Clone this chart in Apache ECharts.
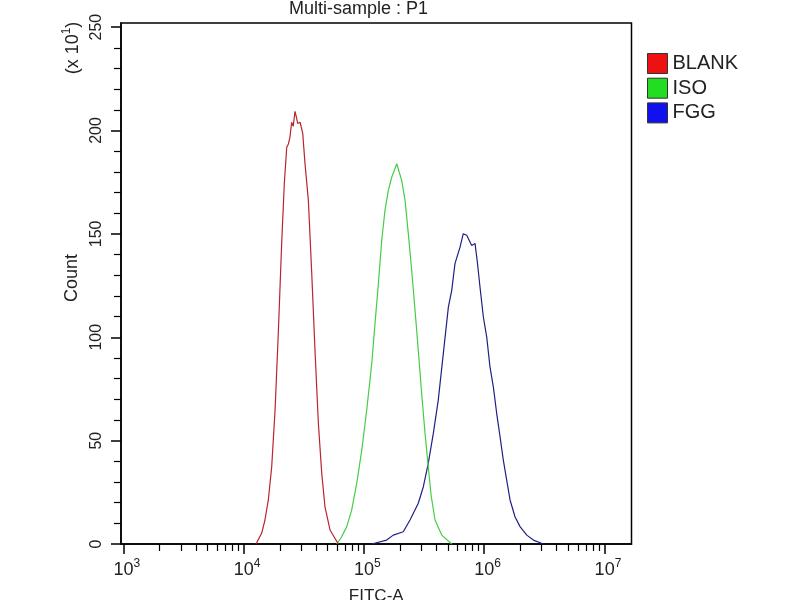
<!DOCTYPE html>
<html>
<head>
<meta charset="utf-8">
<script src="https://cdn.jsdelivr.net/npm/echarts@6/dist/echarts.min.js"></script>
<style>
html,body{margin:0;padding:0;background:#fff;}
#chart{width:800px;height:600px;}
</style>
</head>
<body>
<div id="chart"></div>
<script>
// ---- data (x values are log10 of FITC-A, y values are Count in units of x10^1) ----
const chartTitle = 'Multi-sample : P1';
const seriesNames = ['BLANK', 'ISO', 'FGG'];
const lineColors = ['#b8252b', '#46cc46', '#1f1f86'];
const legendColors = ['#ee1111', '#22dd22', '#1111ee'];

const xDecades = [3, 4, 5, 6, 7];
const xMinorMultipliers = [2, 3, 4, 5, 6, 7, 8, 9];
const yMajorTicks = [0, 50, 100, 150, 200, 250];
const yMinorTicks = [10, 20, 30, 40, 60, 70, 80, 90, 110, 120, 130, 140, 160, 170, 180, 190, 210, 220, 230, 240];

const blankLogFitc = [4.103, 4.150, 4.177, 4.205, 4.233, 4.261, 4.288, 4.316, 4.338, 4.358, 4.372, 4.385, 4.399, 4.412, 4.427, 4.440, 4.449, 4.469, 4.491, 4.510, 4.538, 4.566, 4.593, 4.621, 4.649, 4.676, 4.718, 4.787];
const blankCount   = [0, 5.3, 11.6, 21.3, 37.3, 64.7, 101.9, 145.4, 174.4, 191.9, 193.5, 196.8, 204, 202, 209.3, 206, 203.4, 204, 198.6, 184, 166.2, 130.9, 93.7, 58.5, 34.3, 18, 6.8, 0];

const isoLogFitc = [4.774, 4.815, 4.857, 4.898, 4.940, 4.982, 5.023, 5.065, 5.092, 5.120, 5.148, 5.175, 5.203, 5.231, 5.273, 5.314, 5.342, 5.369, 5.397, 5.425, 5.452, 5.480, 5.508, 5.535, 5.558, 5.591, 5.647, 5.730];
const isoCount   = [0, 3.5, 8.4, 16.4, 29.3, 45.4, 64.7, 87.3, 106.6, 125.9, 146.9, 161.4, 171, 177.4, 183.9, 175.8, 166.2, 150.1, 132.4, 113, 93.7, 72.8, 53.5, 37.3, 23.7, 11.6, 4.3, 0];

const fggLogFitc = [5.065, 5.189, 5.244, 5.327, 5.383, 5.452, 5.494, 5.535, 5.577, 5.618, 5.660, 5.702, 5.730, 5.757, 5.799, 5.826, 5.855, 5.868, 5.896, 5.924, 5.943, 5.965, 5.993, 6.021, 6.048, 6.076, 6.104, 6.132, 6.159, 6.187, 6.215, 6.256, 6.298, 6.354, 6.409, 6.492];
const fggCount   = [0, 1.9, 4.3, 5.9, 11.6, 19.7, 27.7, 39, 53.5, 69.6, 92.1, 114.6, 122.7, 135.6, 143.6, 150.1, 149.3, 150.1, 144.4, 145.3, 136.4, 124.3, 109.8, 100.1, 85.7, 76, 63.1, 51.8, 40.6, 30.9, 21.3, 13.2, 8.4, 4.3, 1.9, 0];

// ---- build ----
const FONT = '"Liberation Sans", Arial, Helvetica, sans-serif';
const TXT = '#222';
const xMin = 2.98, xMax = 7.2248, yMin = 0, yMax = 252;

const xMinorTicks = [];
xDecades.forEach(function (d) {
  xMinorMultipliers.forEach(function (k) {
    const v = d + Math.log10(k);
    if (v < xMax) xMinorTicks.push(v);
  });
});

function pairs(xs, ys) { return xs.map(function (x, i) { return [x, ys[i]]; }); }
const seriesData = [pairs(blankLogFitc, blankCount), pairs(isoLogFitc, isoCount), pairs(fggLogFitc, fggCount)];

const axisLine = { show: true, onZero: false, lineStyle: { color: '#000', width: 1.5 } };

const chart = echarts.init(document.getElementById('chart'));
chart.setOption({
  animation: false,
  backgroundColor: '#fff',
  title: {
    text: chartTitle, left: 289, top: 0, padding: 0,
    textStyle: { fontSize: 18, fontWeight: 'normal', color: TXT, fontFamily: FONT }
  },
  legend: {
    orient: 'vertical', left: 647, top: 53, padding: 0,
    itemWidth: 20, itemHeight: 20, itemGap: 3.7, icon: 'rect',
    textStyle: { fontSize: 20, color: TXT, fontFamily: FONT, lineHeight: 20 },
    data: seriesNames.map(function (n, i) {
      return { name: n, itemStyle: { color: legendColors[i], borderColor: '#333', borderWidth: 1 } };
    })
  },
  grid: {
    left: 121, right: 168.5, top: 23, bottom: 56,
    outerBoundsMode: 'none', containLabel: false,
    show: true, borderColor: '#000', borderWidth: 1.5, backgroundColor: 'transparent'
  },
  graphic: [{
    type: 'text', x: 72, y: 48, rotation: Math.PI / 2, z: 10,
    style: {
      text: '{b|(x 10}{s|1}{b|)}', x: 0, y: 0, align: 'center', verticalAlign: 'middle', fill: TXT,
      rich: {
        b: { fontSize: 18, lineHeight: 20, verticalAlign: 'bottom', fontFamily: FONT, fill: TXT },
        s: { fontSize: 12, lineHeight: 14, padding: [0, 0, 9, 0], verticalAlign: 'bottom', fontFamily: FONT, fill: TXT }
      }
    }
  }],
  xAxis: [{
    type: 'value', min: xMin, max: xMax, position: 'bottom', gridIndex: 0,
    axisLine: axisLine,
    axisTick: { show: true, customValues: xDecades, length: 10, lineStyle: { color: '#000', width: 1.5 } },
    axisLabel: {
      customValues: xDecades, margin: 15,
      formatter: function (v) { return '{pad| }{b|10}{s|' + v + '}'; },
      rich: {
        pad: { width: 7, fontSize: 12 },
        b: { fontSize: 18, lineHeight: 20, verticalAlign: 'bottom', fontFamily: FONT, color: TXT },
        s: { fontSize: 12, lineHeight: 14, padding: [0, 0, 9, 0], verticalAlign: 'bottom', fontFamily: FONT, color: TXT }
      }
    },
    splitLine: { show: false },
    name: 'FITC-A', nameLocation: 'middle', nameGap: 44,
    nameTextStyle: { fontSize: 17, color: TXT, fontFamily: FONT }
  }, {
    type: 'value', min: xMin, max: xMax, position: 'bottom', gridIndex: 0,
    axisLine: { show: false, onZero: false },
    axisTick: { show: true, customValues: xMinorTicks, length: 7, lineStyle: { color: '#000', width: 1.2 } },
    axisLabel: { show: false },
    splitLine: { show: false }
  }],
  yAxis: [{
    type: 'value', min: yMin, max: yMax, position: 'left', gridIndex: 0,
    axisLine: axisLine,
    axisTick: { show: true, customValues: yMajorTicks, length: 10, lineStyle: { color: '#000', width: 1.5 } },
    axisLabel: { customValues: yMajorTicks, rotate: 90, margin: 16, fontSize: 16, color: TXT, fontFamily: FONT },
    splitLine: { show: false },
    name: 'Count', nameLocation: 'middle', nameGap: 40, nameRotate: 90,
    nameTextStyle: { fontSize: 18, color: TXT, fontFamily: FONT, padding: [0, 0, 0, 11] }
  }, {
    type: 'value', min: yMin, max: yMax, position: 'left', gridIndex: 0,
    axisLine: { show: false, onZero: false },
    axisTick: { show: true, customValues: yMinorTicks, length: 7, lineStyle: { color: '#000', width: 1.2 } },
    axisLabel: { show: false },
    splitLine: { show: false }
  }],
  series: seriesNames.map(function (n, i) {
    return {
      name: n, type: 'line', xAxisIndex: 0, yAxisIndex: 0,
      data: seriesData[i], showSymbol: false, symbol: 'none',
      lineStyle: { color: lineColors[i], width: 1.2 },
      itemStyle: { color: lineColors[i] },
      z: 3 - i
    };
  })
});
</script>
</body>
</html>
